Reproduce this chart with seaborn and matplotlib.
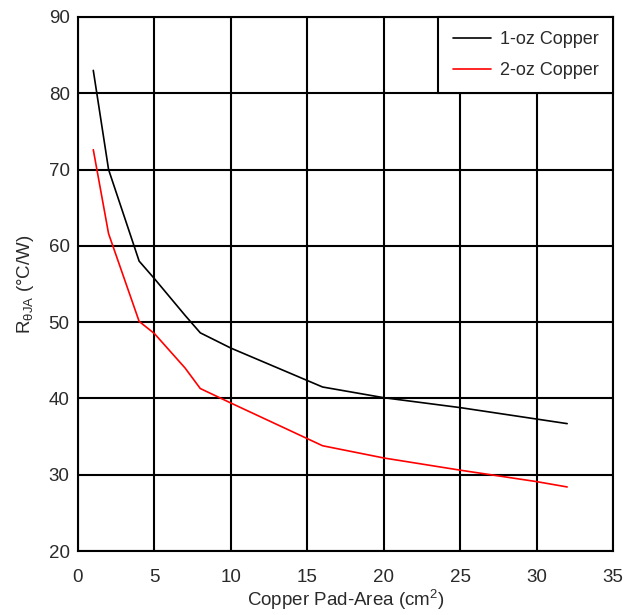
import numpy as np
import pandas as pd
import matplotlib
matplotlib.use('Agg')
import matplotlib.pyplot as plt
import seaborn as sns

# copper pad area (cm^2) and junction-to-ambient resistance (°C/W)
area = [1, 2, 4, 5, 7, 8, 10, 16, 20, 25, 30, 32]
r_1oz = [83, 70, 58, 55.7, 50.9, 48.6, 46.6, 41.5, 40.1, 38.8, 37.3, 36.7]
r_2oz = [72.6, 61.6, 50.1, 48.5, 44.0, 41.3, 39.4, 33.8, 32.2, 30.6, 29.1, 28.4]
series = ['1-oz Copper', '2-oz Copper']

df = pd.DataFrame({
    'area': area * 2,
    'r': r_1oz + r_2oz,
    'copper': [series[0]] * len(area) + [series[1]] * len(area),
})

sns.set_style('white')
plt.rcParams['font.family'] = ['Liberation Sans', 'DejaVu Sans']
plt.rcParams['mathtext.fontset'] = 'custom'
plt.rcParams['mathtext.rm'] = 'Liberation Sans'
plt.rcParams['mathtext.it'] = 'Liberation Sans'

fig = plt.figure(figsize=(6.27, 6.15), dpi=100)
ax = fig.add_axes([0.1244, 0.104, 0.8533, 0.8684])

sns.lineplot(data=df, x='area', y='r', hue='copper', sort=False,
             palette={series[0]: 'black', series[1]: 'red'},
             linewidth=1.2, ax=ax, zorder=3)

ax.set_xlim(0, 35)
ax.set_ylim(20, 90)
ax.set_xticks(np.arange(0, 36, 5))
ax.set_yticks(np.arange(20, 91, 10))
ax.grid(True, color='black', linewidth=1.5)
ax.set_axisbelow(True)
for s in ax.spines.values():
    s.set_color('black')
    s.set_linewidth(1.5)
txt = '#2a2a2a'
ax.tick_params(length=0, labelsize=13.5, colors=txt)
ax.tick_params(axis='x', pad=13)
ax.tick_params(axis='y', pad=6)

ax.set_xlabel('Copper Pad-Area (cm$^2$)', fontsize=13.5, color=txt, labelpad=1)
ax.set_ylabel(r'R$_{\theta JA}$ (°C/W)', fontsize=13.5, color=txt, labelpad=9)

leg = ax.legend(loc='upper right', bbox_to_anchor=(1, 1), borderaxespad=0,
                fancybox=False, framealpha=1, edgecolor='black',
                fontsize=13, handlelength=2.1, handletextpad=0.5,
                borderpad=0.8, labelspacing=0.75, title=None)
leg.get_frame().set_linewidth(1.5)
for t in leg.get_texts():
    t.set_color(txt)

fig.savefig('out.png', dpi=100)
